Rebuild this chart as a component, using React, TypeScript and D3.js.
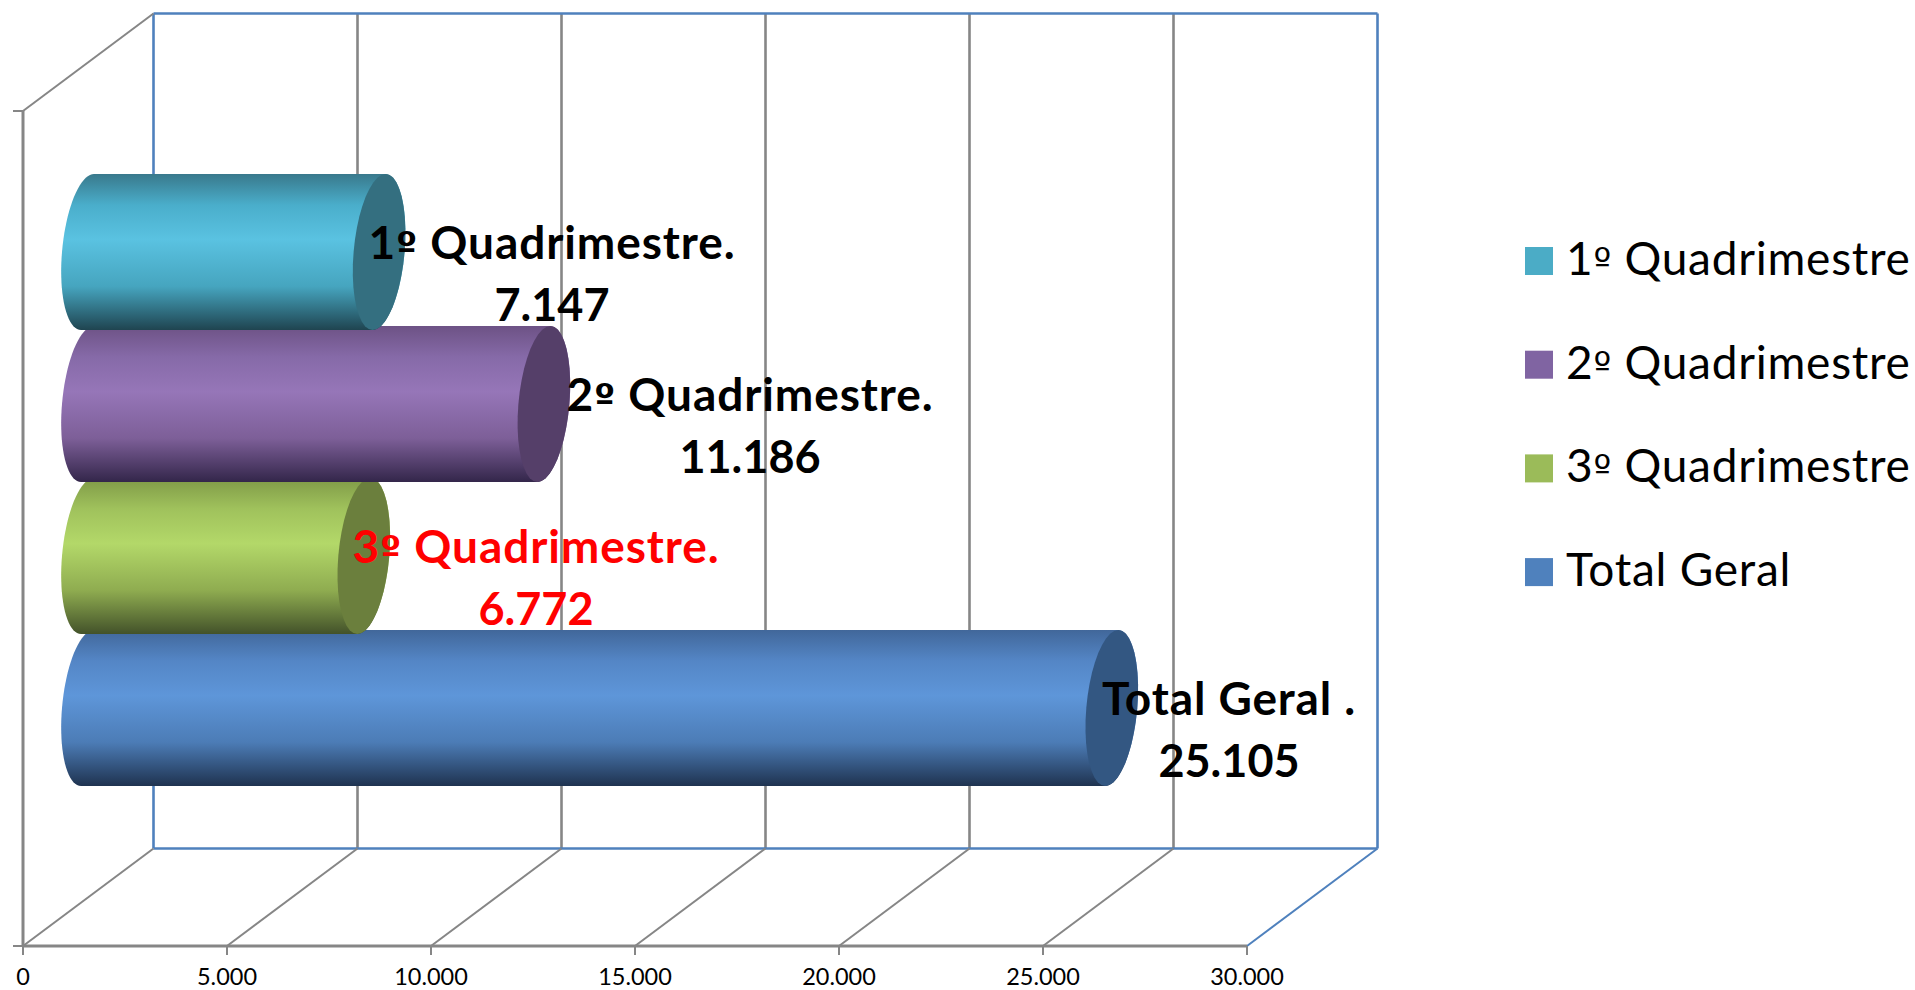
import React from "react";
import * as d3 from "d3";

const seriesNames = ["1º Quadrimestre", "2º Quadrimestre", "3º Quadrimestre", "Total Geral"];
const seriesValues = [7147, 11186, 6772, 25105];
const valueLabels = ["7.147", "11.186", "6.772", "25.105"];
const barLabels = ["1º Quadrimestre.", "2º Quadrimestre.", "3º Quadrimestre.", "Total Geral ."];
const labelColors = ["#000000", "#000000", "#ff0000", "#000000"];
const labelCenters = [552, 750, 536, 1229];
const tickValues = [0, 5000, 10000, 15000, 20000, 25000, 30000];
const tickLabels = ["0", "5.000", "10.000", "15.000", "20.000", "25.000", "30.000"];
const legendColors = ["#4bacc6", "#8064a2", "#9bbb59", "#4f81bd"];
const capColors = ["#346f80", "#553f69", "#6b7f3d", "#335782"];
const gradStops = [
  ["#39798c", "#4aaecb", "#5ac2e1", "#46a5bf", "#1f4450"],
  ["#6d5285", "#866aa8", "#9676b8", "#7d5f98", "#33264a"],
  ["#7f9a47", "#a0c25c", "#b3d869", "#8fac50", "#43522a"],
  ["#41679a", "#5486c6", "#5e96d9", "#4c7cb6", "#1f3350"],
];
const stopOffsets = [0, 0.2, 0.42, 0.72, 1];

const GRAY = "#868686";
const BLUE = "#4f81bd";
const FONT = "Lato, Carlito, Calibri, sans-serif";

const front = d3.scaleLinear().domain([0, 30000]).range([23, 1247]);
const depthX = 130.5;
const depthY = -97.5;
const floorY = 946;
const ceilY = 111;
const barShiftX = 64.5;
const band = d3.scaleBand().domain(seriesNames).range([176, 784]);
const barH = 156;
const rx = 25.5;
const skew = 6.5 / 78;

function ellipsePts(cx: number, cy: number, from: number, to: number): [number, number][] {
  return d3.range(0, 41).map((i) => {
    const t = from + ((to - from) * i) / 40;
    const y = (barH / 2) * Math.sin(t);
    return [cx + rx * Math.cos(t) - skew * y, cy + y] as [number, number];
  });
}
const line = d3.line();

function Ord({ s }: { s: string }) {
  const parts = s.split("º");
  if (parts.length < 2) return <>{s}</>;
  return (
    <>
      {parts[0]}
      <tspan fontFamily="'DejaVu Sans', sans-serif" fontSize="0.82em">º</tspan>
      {parts[1]}
    </>
  );
}

export default function App() {
  const order = d3.range(seriesNames.length).reverse();
  return (
    <svg width={1915} height={990} style={{ position: "absolute", left: 0, top: 0, background: "#fff" }} fontFamily={FONT}>
      <defs>
        {gradStops.map((s, i) => (
          <linearGradient key={i} id={`g${i}`} x1="0" y1="0" x2="0" y2="1">
            {s.map((c, j) => <stop key={j} offset={stopOffsets[j]} stopColor={c} />)}
          </linearGradient>
        ))}
      </defs>

      {/* back wall */}
      {tickValues.map((v, i) => {
        const x = front(v) + depthX;
        const edge = i === 0 || i === tickValues.length - 1;
        return <line key={v} x1={x} x2={x} y1={ceilY + depthY} y2={floorY + depthY} stroke={edge ? BLUE : GRAY} strokeWidth={2.6} />;
      })}
      <line x1={front(0) + depthX} x2={front(30000) + depthX} y1={ceilY + depthY} y2={ceilY + depthY} stroke={BLUE} strokeWidth={2.6} />
      <line x1={front(0) + depthX} x2={front(30000) + depthX} y1={floorY + depthY} y2={floorY + depthY} stroke={BLUE} strokeWidth={2.6} />

      {/* floor and side wall */}
      {tickValues.map((v, i) => (
        <line key={v} x1={front(v)} x2={front(v) + depthX} y1={floorY} y2={floorY + depthY} stroke={i === tickValues.length - 1 ? BLUE : GRAY} strokeWidth={2} />
      ))}
      <line x1={front(0)} x2={front(0) + depthX} y1={ceilY} y2={ceilY + depthY} stroke={GRAY} strokeWidth={2} />
      <line x1={front(0)} x2={front(0)} y1={ceilY} y2={floorY} stroke={GRAY} strokeWidth={3} />
      <line x1={front(0)} x2={front(30000)} y1={floorY} y2={floorY} stroke={GRAY} strokeWidth={3} />
      <line x1={front(0) - 10} x2={front(0)} y1={ceilY} y2={ceilY} stroke={GRAY} strokeWidth={2} />
      <line x1={front(0) - 10} x2={front(0)} y1={floorY} y2={floorY} stroke={GRAY} strokeWidth={2} />
      {tickValues.map((v) => (
        <line key={v} x1={front(v)} x2={front(v)} y1={floorY} y2={floorY + 9} stroke={GRAY} strokeWidth={2} />
      ))}

      {/* cylinders */}
      {order.map((i) => {
        const cy = (band(seriesNames[i]) as number) + band.bandwidth() / 2;
        const x0 = front(0) + barShiftX;
        const x1 = front(seriesValues[i]) + barShiftX;
        const body = [
          ...ellipsePts(x0, cy, -Math.PI / 2, -Math.PI * 1.5),
          ...ellipsePts(x1, cy, Math.PI / 2, -Math.PI / 2),
        ];
        return (
          <g key={i}>
            <path d={line(body) + "Z"} fill={`url(#g${i})`} />
            <path d={line(ellipsePts(x1, cy, 0, Math.PI * 2)) + "Z"} fill={capColors[i]} />
          </g>
        );
      })}

      {/* value labels */}
      {seriesNames.map((n, i) => {
        const cy = (band(n) as number) + band.bandwidth() / 2;
        return (
          <g key={n} fontWeight={700} fill={labelColors[i]} textAnchor="middle">
            <text x={labelCenters[i]} y={cy + 7} fontSize={46} letterSpacing={0.9}><Ord s={barLabels[i]} /></text>
            <text x={labelCenters[i]} y={cy + 69} fontSize={45}>{valueLabels[i]}</text>
          </g>
        );
      })}

      {/* tick labels */}
      {tickValues.map((v, i) => (
        <text key={v} x={front(v)} y={985} fontSize={23.5} textAnchor="middle" fill="#000">{tickLabels[i]}</text>
      ))}

      {/* legend */}
      {seriesNames.map((n, i) => (
        <g key={n}>
          <rect x={1525} y={247 + i * 103.7} width={28} height={28} fill={legendColors[i]} />
          <text x={1566} y={275 + i * 103.7} fontSize={46} letterSpacing={0.75} fill="#000"><Ord s={n} /></text>
        </g>
      ))}
    </svg>
  );
}
